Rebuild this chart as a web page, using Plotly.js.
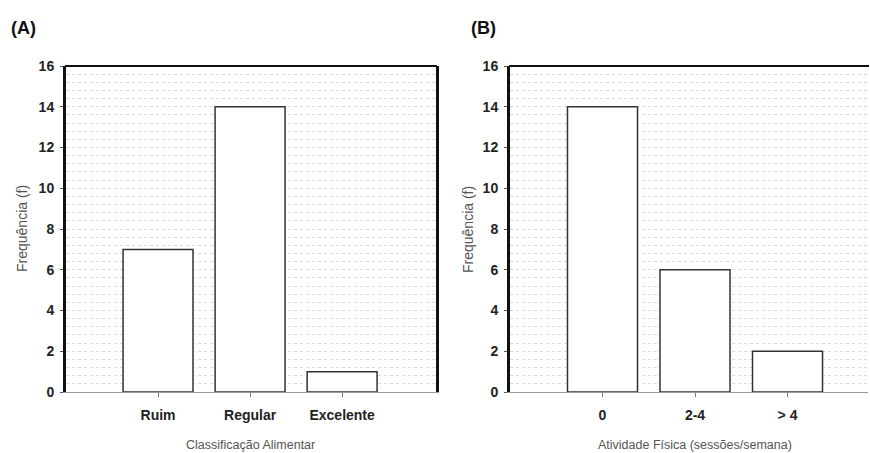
<!DOCTYPE html>
<html><head><meta charset="utf-8">
<script src="https://cdn.plot.ly/plotly-3.0.1.min.js"></script>
<style>body{margin:0;background:#fff}#c{width:870px;height:453px}</style>
</head><body><div id="c"></div>
<script>
const catsA = ["Ruim", "Regular", "Excelente"];
const valsA = [7, 14, 1];
const catsB = ["0", "2-4", "> 4"];
const valsB = [14, 6, 2];
const yTicks = [0, 2, 4, 6, 8, 10, 12, 14, 16];

const H = 453, W = 870;
const py = v => 1 - v / H;
const px = v => v / W;
const F = "Liberation Sans, Arial, sans-serif";

const barStyle = {color: "#ffffff", line: {color: "#333333", width: 1.5}};
const traces = [
  {type: "bar", x: [0, 1, 2], y: valsA, width: 0.76, marker: barStyle, xaxis: "x", yaxis: "y", hoverinfo: "none"},
  {type: "bar", x: [0, 1, 2], y: valsB, width: 0.757, marker: barStyle, xaxis: "x2", yaxis: "y2", hoverinfo: "none"}
];

const yAx = (anchor) => ({
  anchor: anchor, domain: [py(392), py(66)], range: [0, 16], tickvals: yTicks,
  ticktext: yTicks.map(String), ticks: "outside", ticklen: 3, tickcolor: "#555", tickwidth: 1,
  ticklabelstandoff: 3,
  tickfont: {family: F, size: 14, color: "#222", weight: "bold"},
  showline: true, linecolor: "#111", linewidth: 3, zeroline: false, showgrid: false,
  minor: {dtick: 0.4, tick0: 0, showgrid: true, gridcolor: "#d9d9d9", griddash: "dot", gridwidth: 1, ticks: ""},
  fixedrange: true
});
const xAx = (anchor, dom, rng, cats) => ({
  anchor: anchor, domain: dom, range: rng, tickvals: [0, 1, 2], ticktext: cats,
  ticks: "outside", ticklen: 4, tickcolor: "#777", tickwidth: 1, ticklabelstandoff: 6,
  tickfont: {family: F, size: 14, color: "#222", weight: "bold"},
  showline: true, linecolor: "#999", linewidth: 1, zeroline: false, showgrid: false, fixedrange: true
});

const layoutYA = yAx("x"); layoutYA.mirror = true;
const layout = {
  width: W, height: H, margin: {l: 0, r: 0, t: 0, b: 0},
  paper_bgcolor: "#fff", plot_bgcolor: "#fff", showlegend: false, bargap: 0,
  xaxis: xAx("y", [px(66), px(436)], [-1, 3.02], catsA),
  yaxis: layoutYA,
  xaxis2: xAx("y2", [px(510), px(868)], [-1, 2.87], catsB),
  yaxis2: yAx("x2"),
  shapes: [
    {type: "line", xref: "paper", yref: "paper", x0: px(65), x1: px(437), y0: py(66), y1: py(66), line: {color: "#111", width: 2}},
    {type: "line", xref: "paper", yref: "paper", x0: px(509), x1: px(869), y0: py(66), y1: py(66), line: {color: "#111", width: 2}}
  ],
  annotations: [
    {text: "<b>(A)</b>", xref: "paper", yref: "paper", x: px(9), y: py(28), xanchor: "left", yanchor: "middle", showarrow: false, font: {family: F, size: 18, color: "#111"}},
    {text: "<b>(B)</b>", xref: "paper", yref: "paper", x: px(469), y: py(28), xanchor: "left", yanchor: "middle", showarrow: false, font: {family: F, size: 18, color: "#111"}},
    {text: "Classificação Alimentar", xref: "x", yref: "paper", x: 1, y: py(445), xanchor: "center", yanchor: "middle", showarrow: false, font: {family: F, size: 12.5, color: "#555"}},
    {text: "Atividade Física (sessões/semana)", xref: "x2", yref: "paper", x: 1, y: py(445), xanchor: "center", yanchor: "middle", showarrow: false, font: {family: F, size: 12.5, color: "#555"}},
    {text: "Frequência (f)", xref: "paper", yref: "paper", x: px(22), y: py(229), xanchor: "center", yanchor: "middle", textangle: -90, showarrow: false, font: {family: F, size: 14, color: "#555"}},
    {text: "Frequência (f)", xref: "paper", yref: "paper", x: px(468), y: py(229), xanchor: "center", yanchor: "middle", textangle: -90, showarrow: false, font: {family: F, size: 14, color: "#555"}}
  ]
};
Plotly.newPlot("c", traces, layout, {displayModeBar: false, staticPlot: true});
</script></body></html>
